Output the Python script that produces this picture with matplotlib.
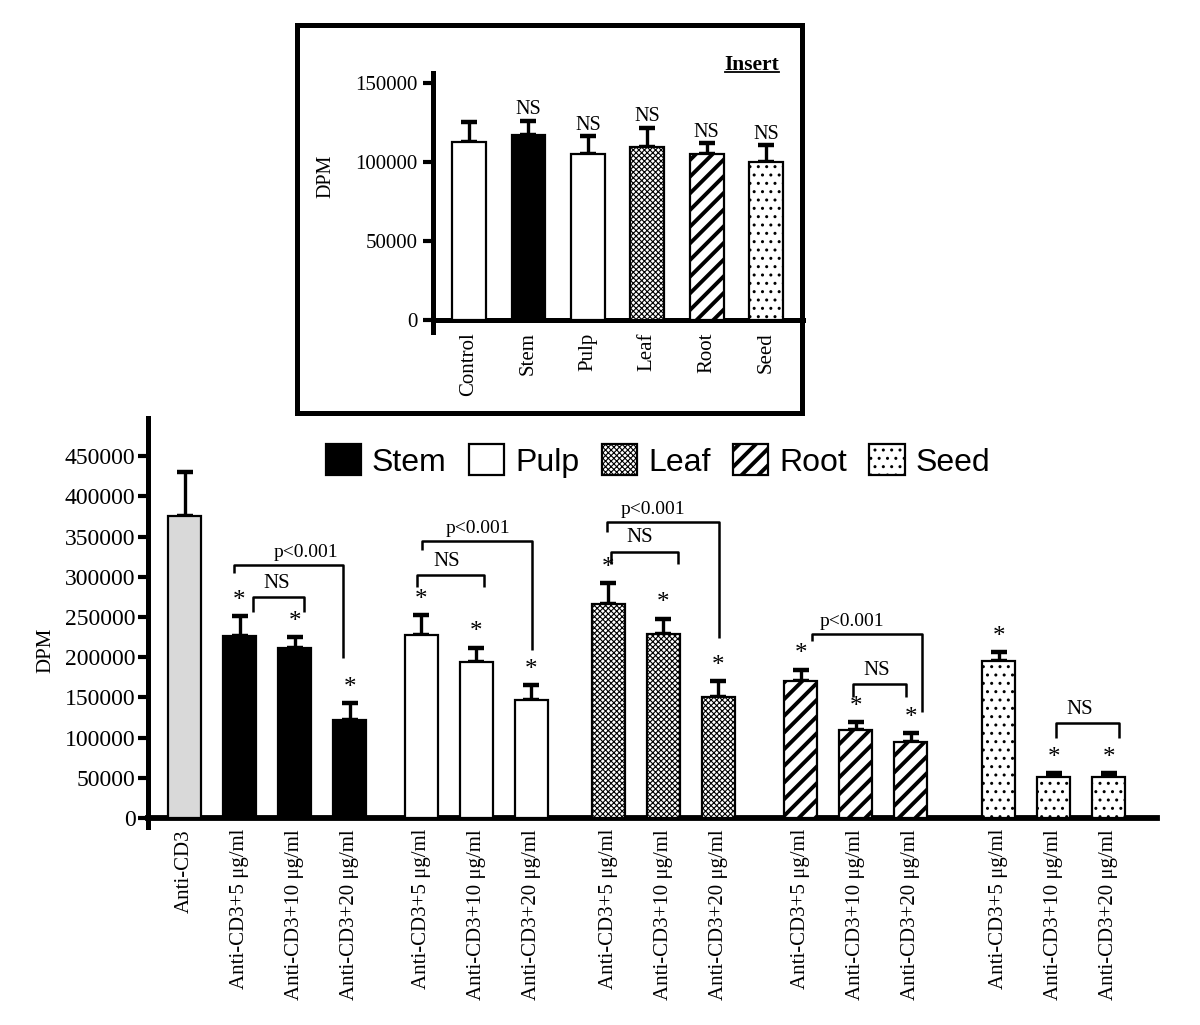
import matplotlib
matplotlib.use("Agg")
import matplotlib.pyplot as plt
import numpy as np
from matplotlib.font_manager import FontProperties
from matplotlib.lines import Line2D
from matplotlib.patches import Patch, Rectangle
from matplotlib.ticker import FuncFormatter

# ---- data (DPM) ----
anti_cd3_mean = 375000
anti_cd3_err = 55000

dose_labels = ["Anti-CD3+5 \u03bcg/ml", "Anti-CD3+10 \u03bcg/ml", "Anti-CD3+20 \u03bcg/ml"]
extracts = ["Stem", "Pulp", "Leaf", "Root", "Seed"]
stem_mean = [226000, 212000, 122000]
stem_err = [25500, 13500, 21000]
pulp_mean = [227000, 194000, 147000]
pulp_err = [25000, 18000, 18500]
leaf_mean = [266000, 229000, 150000]
leaf_err = [26000, 19000, 20000]
root_mean = [170000, 109000, 95000]
root_err = [14500, 10500, 10500]
seed_mean = [195000, 50600, 50600]
seed_err = [11500, 5000, 5000]

insert_labels = ["Control", "Stem", "Pulp", "Leaf", "Root", "Seed"]
insert_mean = [112500, 117000, 105300, 109600, 105000, 100200]
insert_err = [12500, 9000, 11000, 12000, 7000, 10500]

# brackets: (x left, x right, top, left end, right end, text, text x)
brackets = [
    (0.90, 2.88, 314700, 304800, 199000, "p<0.001", 2.21),
    (1.25, 2.17, 274900, 256300, 256300, "NS", 1.68),
    (4.32, 6.32, 344600, 333400, 209000, "p<0.001", 5.34),
    (4.23, 5.45, 302300, 287400, 287400, "NS", 4.76),
    (7.68, 9.72, 368200, 356200, 223900, "p<0.001", 8.52),
    (7.75, 8.97, 331300, 316000, 316000, "NS", 8.28),
    (11.41, 13.41, 228900, 220600, 132200, "p<0.001", 12.13),
    (12.15, 13.12, 166700, 150900, 150900, "NS", 12.59),
    (15.85, 16.99, 118200, 99500, 99500, "NS", 16.28),
]

# ---- styles ----
SERIF = "Liberation Serif"
SANS = "Liberation Sans"
styles = {
    "Stem": dict(facecolor="black", hatch=None, hlw=1.0),
    "Pulp": dict(facecolor="white", hatch=None, hlw=1.0),
    "Leaf": dict(facecolor="white", hatch="xxxxxx", hlw=0.8),
    "Root": dict(facecolor="white", hatch="//", hlw=2.8),
    "Seed": dict(facecolor="white", hatch="..", hlw=1.0),
}
group_start = [1.0, 4.3, 7.7, 11.2, 14.8]
bar_w = 0.6

plt.rcParams["font.family"] = [SERIF, "DejaVu Serif"]
plt.rcParams["hatch.color"] = "black"


def set_hlw(patch, lw):
    if hasattr(patch, "set_hatch_linewidth"):
        patch.set_hatch_linewidth(lw)


def styled_bars(ax, x, h, name, width):
    st = styles[name]
    with plt.rc_context({"hatch.linewidth": st["hlw"]}):
        bars = ax.bar(x, h, width=width, facecolor=st["facecolor"],
                      edgecolor="black", linewidth=1.6, hatch=st["hatch"],
                      zorder=3)
        for b in bars:
            set_hlw(b, st["hlw"])
    return bars


def upper_err(ax, x, h, e):
    ax.errorbar(x, h, yerr=[np.zeros(len(h)), e], fmt="none", ecolor="black",
                elinewidth=2.4, capsize=6, capthick=3.2, zorder=2)


fig = plt.figure(figsize=(12, 10.25), dpi=100)
W, H = 1200.0, 1025.0

# ---- main chart ----
ax = fig.add_axes([148 / W, 1 - 818 / H, (1157 - 148) / W, (818 - 418) / H])
ymax = 497500
ax.set_ylim(0, ymax)
ax.set_xlim(-0.664, 17.68)

ax.bar([0], [anti_cd3_mean], width=bar_w, facecolor="#d9d9d9",
       edgecolor="black", linewidth=1.6, zorder=3)
upper_err(ax, [0], [anti_cd3_mean], [anti_cd3_err])

means = [stem_mean, pulp_mean, leaf_mean, root_mean, seed_mean]
errs = [stem_err, pulp_err, leaf_err, root_err, seed_err]
xticks = [0.0]
xlabels = ["Anti-CD3"]
for name, start, m, e in zip(extracts, group_start, means, errs):
    xs = start + np.arange(len(m))
    styled_bars(ax, xs, m, name, bar_w)
    upper_err(ax, xs, m, e)
    for xi, mi, ei in zip(xs, m, e):
        ax.annotate("*", (xi, mi + ei), xytext=(0, 3), textcoords="offset points",
                    ha="center", va="bottom", fontsize=18)
    xticks.extend(xs)
    xlabels.extend(dose_labels)

for xl, xr, top, yl, yr, txt, tx in brackets:
    ax.plot([xl, xl, xr, xr], [yl, top, top, yr], color="black", lw=1.8,
            solid_capstyle="butt", zorder=4)
    fs = 14 if txt.startswith("p") else 15
    ax.annotate(txt, (tx, top), xytext=(0, 3), textcoords="offset points",
                ha="center", va="bottom", fontsize=fs)

ax.set_xticks(xticks)
ax.set_xticklabels(xlabels, rotation=90, fontsize=15, va="top")
ax.tick_params(axis="x", length=0, pad=8)
ax.set_yticks(np.arange(0, 450001, 50000))
ax.yaxis.set_major_formatter(FuncFormatter(lambda v, p: f"{int(v)}"))
ax.tick_params(axis="y", direction="out", length=7, width=3, labelsize=17, pad=2)
for s in ["top", "right"]:
    ax.spines[s].set_visible(False)
ax.spines["left"].set_linewidth(3.6)
ax.spines["bottom"].set_linewidth(4.2)
ax.spines["left"].set_bounds(-11000, ymax)
ax.set_ylabel("DPM", fontsize=15)
ax.yaxis.set_label_coords(-0.092, 0.42)

# ---- legend ----
handles = [Patch(facecolor=styles[n]["facecolor"], edgecolor="black",
                 hatch=styles[n]["hatch"], linewidth=1.6) for n in extracts]
for n, hnd in zip(extracts, handles):
    set_hlw(hnd, styles[n]["hlw"])
leg = fig.legend(handles, extracts, loc="center",
                 bbox_to_anchor=(658 / W, 1 - 461 / H),
                 ncol=5, frameon=False, prop=FontProperties(family=SANS, size=23),
                 handlelength=1.1, handleheight=1.1, handletextpad=0.35,
                 columnspacing=0.7, borderpad=0)
for n, p in zip(extracts, leg.get_patches()):
    set_hlw(p, styles[n]["hlw"])

# ---- insert ----
fig.add_artist(Rectangle((297 / W, 1 - 413 / H), (802 - 297) / W, (413 - 25) / H,
                         transform=fig.transFigure, fill=False, lw=3.6,
                         edgecolor="black"))
ax2 = fig.add_axes([433 / W, 1 - 320 / H, (803 - 433) / W, (320 - 73) / H])
iymax = 156300
ax2.set_ylim(0, iymax)
ax2.set_xlim(-0.606, 5.62)
ix = np.arange(len(insert_labels))
ax2.bar([0], [insert_mean[0]], width=0.57, facecolor="white",
        edgecolor="black", linewidth=1.6, zorder=3)
for i, name in enumerate(insert_labels[1:], start=1):
    styled_bars(ax2, [i], [insert_mean[i]], name, 0.57)
upper_err(ax2, ix, insert_mean, insert_err)
for i in ix[1:]:
    ax2.annotate("NS", (i, insert_mean[i] + insert_err[i]), xytext=(0, 1),
                 textcoords="offset points", ha="center", va="bottom",
                 fontsize=14.5)
ax2.set_xticks(ix)
ax2.set_xticklabels(insert_labels, rotation=90, fontsize=15, va="top")
ax2.tick_params(axis="x", length=0, pad=9)
ax2.set_yticks(np.arange(0, 150001, 50000))
ax2.yaxis.set_major_formatter(FuncFormatter(lambda v, p: f"{int(v)}"))
ax2.tick_params(axis="y", direction="out", length=7, width=3, labelsize=15, pad=4)
for s in ["top", "right"]:
    ax2.spines[s].set_visible(False)
ax2.spines["left"].set_linewidth(3.6)
ax2.spines["bottom"].set_linewidth(3.6)
ax2.spines["left"].set_bounds(-7600, iymax)
ax2.set_ylabel("DPM", fontsize=14.5)
ax2.yaxis.set_label_coords(-0.265, 0.58)

ins = fig.text(752 / W, 1 - 65 / H, "Insert", ha="center", va="center",
               fontsize=15.5, fontweight="bold")
fig.canvas.draw()
bb = ins.get_window_extent().transformed(fig.transFigure.inverted())
fig.add_artist(Line2D([bb.x0, bb.x1], [bb.y0 + 0.003, bb.y0 + 0.003],
                      transform=fig.transFigure, color="black", lw=1.3))

fig.savefig("out.png", dpi=100, facecolor="white")
